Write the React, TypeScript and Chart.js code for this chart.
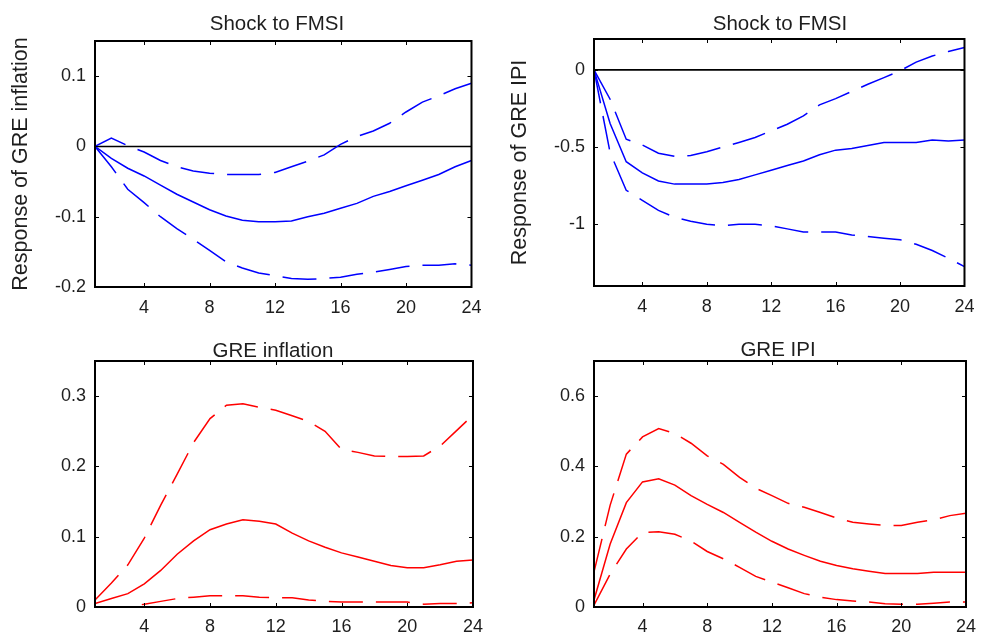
import React, { useEffect, useRef } from "react";
import { Chart, registerables } from "chart.js";

Chart.register(...registerables);

// ---------- data ----------
const periods = [1, 2, 3, 4, 5, 6, 7, 8, 9, 10, 11, 12, 13, 14, 15, 16, 17, 18, 19, 20, 21, 22, 23, 24];
const xTicks = [4, 8, 12, 16, 20, 24];

// Shock to FMSI -> GRE inflation
const fmsiInflMedian = [0, -0.017, -0.031, -0.042, -0.055, -0.068, -0.079, -0.09, -0.099, -0.105, -0.107, -0.107, -0.106, -0.1, -0.095, -0.088, -0.081, -0.071, -0.064, -0.056, -0.048, -0.04, -0.029, -0.02];
const fmsiInflUpper = [0, 0.012, 0.001, -0.008, -0.02, -0.029, -0.035, -0.038, -0.04, -0.04, -0.04, -0.037, -0.029, -0.021, -0.012, 0.003, 0.014, 0.022, 0.033, 0.049, 0.063, 0.072, 0.082, 0.09];
const fmsiInflLower = [0, -0.029, -0.061, -0.08, -0.1, -0.117, -0.132, -0.148, -0.164, -0.173, -0.18, -0.184, -0.188, -0.189, -0.188, -0.186, -0.182, -0.179, -0.175, -0.171, -0.169, -0.169, -0.167, -0.169];
const fmsiInflTicks = [-0.2, -0.1, 0, 0.1];

// Shock to FMSI -> GRE IPI
const fmsiIpiMedian = [0, -0.347, -0.595, -0.667, -0.72, -0.74, -0.74, -0.74, -0.73, -0.71, -0.68, -0.65, -0.62, -0.59, -0.55, -0.52, -0.51, -0.49, -0.47, -0.47, -0.47, -0.455, -0.46, -0.455];
const fmsiIpiUpper = [0, -0.19, -0.449, -0.486, -0.54, -0.56, -0.555, -0.53, -0.5, -0.47, -0.438, -0.395, -0.352, -0.298, -0.227, -0.186, -0.14, -0.093, -0.05, -0.006, 0.05, 0.09, 0.119, 0.145];
const fmsiIpiLower = [0, -0.536, -0.78, -0.845, -0.91, -0.955, -0.98, -1.0, -1.01, -1.0, -1.0, -1.01, -1.03, -1.05, -1.05, -1.05, -1.07, -1.08, -1.09, -1.1, -1.13, -1.17, -1.22, -1.275];
const fmsiIpiTicks = [-1, -0.5, 0];

// GRE inflation
const inflMedian = [0.005, 0.012, 0.019, 0.033, 0.052, 0.075, 0.094, 0.11, 0.118, 0.124, 0.122, 0.118, 0.105, 0.094, 0.085, 0.077, 0.071, 0.065, 0.059, 0.056, 0.056, 0.06, 0.065, 0.067];
const inflUpper = [0.01, 0.034, 0.06, 0.098, 0.145, 0.189, 0.234, 0.268, 0.287, 0.289, 0.284, 0.28, 0.272, 0.264, 0.25, 0.224, 0.22, 0.215, 0.214, 0.214, 0.215, 0.229, 0.251, 0.273];
const inflLower = [0, 0, 0, 0.004, 0.008, 0.012, 0.014, 0.016, 0.016, 0.016, 0.014, 0.013, 0.013, 0.01, 0.008, 0.007, 0.007, 0.007, 0.007, 0.007, 0.004, 0.005, 0.005, 0.006];
const inflTicks = [0, 0.1, 0.2, 0.3];

// GRE IPI
const ipiMedian = [0.02, 0.179, 0.297, 0.356, 0.365, 0.347, 0.317, 0.292, 0.269, 0.241, 0.213, 0.187, 0.165, 0.147, 0.13, 0.118, 0.109, 0.102, 0.095, 0.095, 0.095, 0.099, 0.099, 0.099];
const ipiUpper = [0.1, 0.29, 0.435, 0.484, 0.508, 0.494, 0.466, 0.43, 0.406, 0.369, 0.338, 0.317, 0.295, 0.284, 0.269, 0.253, 0.241, 0.236, 0.232, 0.232, 0.241, 0.248, 0.26, 0.267];
const ipiLower = [0.005, 0.094, 0.165, 0.212, 0.214, 0.207, 0.188, 0.158, 0.137, 0.113, 0.087, 0.071, 0.055, 0.038, 0.028, 0.021, 0.017, 0.014, 0.009, 0.008, 0.008, 0.011, 0.014, 0.014];
const ipiTicks = [0, 0.2, 0.4, 0.6];

// ---------- layout ----------
const FONT = "'Liberation Sans', Arial, Helvetica, sans-serif";
const TEXT = "#1e1e1e";

type PanelDef = {
  left: number; top: number; width: number; height: number;
  plot: { l: number; r: number; t: number; b: number };
  title: string; titleX: number; titleY: number;
  yLabel?: string; yLabelPad?: number;
  yMin: number; yMax: number; yTicks: number[];
  color: string; zeroLine: boolean;
  median: number[]; upper: number[]; lower: number[];
  xPad: number;
};

const panels: PanelDef[] = [
  {
    left: 0, top: 0, width: 492, height: 318,
    plot: { l: 95, r: 474, t: 41, b: 287 },
    title: "Shock to FMSI", titleX: 277, titleY: 24,
    yLabel: "Response of GRE inflation", yLabelPad: 8,
    yMin: -0.2, yMax: 0.15, yTicks: fmsiInflTicks,
    color: "#0000ff", zeroLine: true,
    median: fmsiInflMedian, upper: fmsiInflUpper, lower: fmsiInflLower,
    xPad: 10.5,
  },
  {
    left: 492, top: 0, width: 493, height: 318,
    plot: { l: 102, r: 482, t: 39, b: 286 },
    title: "Shock to FMSI", titleX: 288, titleY: 24,
    yLabel: "Response of GRE IPI", yLabelPad: 15,
    yMin: -1.4, yMax: 0.2, yTicks: fmsiIpiTicks,
    color: "#0000ff", zeroLine: true,
    median: fmsiIpiMedian, upper: fmsiIpiUpper, lower: fmsiIpiLower,
    xPad: 10.5,
  },
  {
    left: 0, top: 318, width: 492, height: 318,
    plot: { l: 95, r: 474, t: 43, b: 289 },
    title: "GRE inflation", titleX: 273, titleY: 33,
    yMin: 0, yMax: 0.35, yTicks: inflTicks,
    color: "#ff0000", zeroLine: false,
    median: inflMedian, upper: inflUpper, lower: inflLower,
    xPad: 9,
  },
  {
    left: 492, top: 318, width: 493, height: 318,
    plot: { l: 102, r: 482, t: 43, b: 289 },
    title: "GRE IPI", titleX: 286, titleY: 32,
    yMin: 0, yMax: 0.7, yTicks: ipiTicks,
    color: "#ff0000", zeroLine: false,
    median: ipiMedian, upper: ipiUpper, lower: ipiLower,
    xPad: 9,
  },
];

const framePlugin = {
  id: "matlabFrame",
  beforeDatasetsDraw(chart: any, _args: any, opts: any) {
    if (!opts.zeroLine) return;
    const { ctx, chartArea } = chart;
    const y = chart.scales.y.getPixelForValue(0);
    ctx.save();
    ctx.strokeStyle = "#000";
    ctx.lineWidth = 1.6;
    ctx.beginPath();
    ctx.moveTo(chartArea.left, y);
    ctx.lineTo(chartArea.right, y);
    ctx.stroke();
    ctx.restore();
  },
  afterDatasetsDraw(chart: any, _args: any, opts: any) {
    const { ctx, chartArea } = chart;
    const { left, right, top, bottom } = chartArea;
    const xs = chart.scales.x;
    const ys = chart.scales.y;
    ctx.save();
    ctx.strokeStyle = "#000";
    ctx.lineWidth = 1;
    const tl = 4;
    ctx.beginPath();
    for (const v of xTicks) {
      const px = Math.round(xs.getPixelForValue(v)) + 0.5;
      ctx.moveTo(px, bottom);
      ctx.lineTo(px, bottom - tl);
      ctx.moveTo(px, top);
      ctx.lineTo(px, top + tl);
    }
    for (const v of opts.yTicks) {
      const py = Math.round(ys.getPixelForValue(v)) + 0.5;
      ctx.moveTo(left, py);
      ctx.lineTo(left + tl, py);
      ctx.moveTo(right, py);
      ctx.lineTo(right - tl, py);
    }
    ctx.stroke();
    ctx.lineWidth = 2;
    ctx.strokeRect(left, top, right - left, bottom - top);
    // title
    ctx.fillStyle = TEXT;
    ctx.font = `20.5px ${FONT}`;
    ctx.textAlign = "center";
    ctx.textBaseline = "middle";
    ctx.fillText(opts.title, opts.titleX, opts.titleY);
    ctx.restore();
  },
};

function Panel({ def }: { def: PanelDef }) {
  const ref = useRef<HTMLCanvasElement | null>(null);
  useEffect(() => {
    if (!ref.current) return;
    const pts = (vals: number[]) => periods.map((p, i) => ({ x: p, y: vals[i] }));
    const base = {
      borderColor: def.color,
      borderWidth: 1.5,
      pointRadius: 0,
      tension: 0,
      fill: false,
    };
    const chart = new Chart(ref.current, {
      type: "line",
      data: {
        datasets: [
          { ...base, label: "median", data: pts(def.median) },
          { ...base, label: "upper", data: pts(def.upper), borderDash: [34, 13] },
          { ...base, label: "lower", data: pts(def.lower), borderDash: [34, 13] },
        ],
      },
      options: {
        responsive: false,
        animation: false,
        layout: {
          padding: { left: 0, top: def.plot.t, right: def.width - def.plot.r, bottom: 0 },
        },
        plugins: {
          legend: { display: false },
          tooltip: { enabled: false },
          title: { display: false },
          matlabFrame: {
            zeroLine: def.zeroLine,
            yTicks: def.yTicks,
            title: def.title,
            titleX: def.titleX,
            titleY: def.titleY,
          },
        } as any,
        scales: {
          x: {
            type: "linear",
            min: 1,
            max: 24,
            grid: { display: false, drawTicks: false },
            border: { display: false },
            ticks: {
              font: { size: 18, family: FONT },
              color: TEXT,
              padding: def.xPad,
              maxRotation: 0,
              autoSkip: false,
              callback: (v: any) => String(v),
            },
            afterBuildTicks: (s: any) => {
              s.ticks = xTicks.map((v) => ({ value: v }));
            },
            afterFit: (s: any) => {
              s.height = def.height - def.plot.b;
            },
          },
          y: {
            type: "linear",
            min: def.yMin,
            max: def.yMax,
            grid: { display: false, drawTicks: false },
            border: { display: false },
            ticks: {
              font: { size: 18, family: FONT },
              color: TEXT,
              padding: 9,
              autoSkip: false,
              callback: (v: any) => String(v),
            },
            title: {
              display: !!def.yLabel,
              text: def.yLabel || "",
              color: TEXT,
              font: { size: 21.5, family: FONT, lineHeight: 1.2 },
              padding: { top: def.yLabelPad || 0, bottom: 0 },
            },
            afterBuildTicks: (s: any) => {
              s.ticks = def.yTicks.map((v) => ({ value: v }));
            },
            afterFit: (s: any) => {
              s.width = def.plot.l;
            },
          },
        } as any,
      },
      plugins: [framePlugin as any],
    });
    return () => chart.destroy();
  }, [def]);
  return (
    <canvas
      ref={ref}
      width={def.width}
      height={def.height}
      style={{ position: "absolute", left: def.left, top: def.top, width: def.width, height: def.height }}
    />
  );
}

export default function App() {
  return (
    <div style={{ position: "absolute", left: 0, top: 0, width: 985, height: 636, background: "#fff" }}>
      {panels.map((p, i) => (
        <Panel key={i} def={p} />
      ))}
    </div>
  );
}
